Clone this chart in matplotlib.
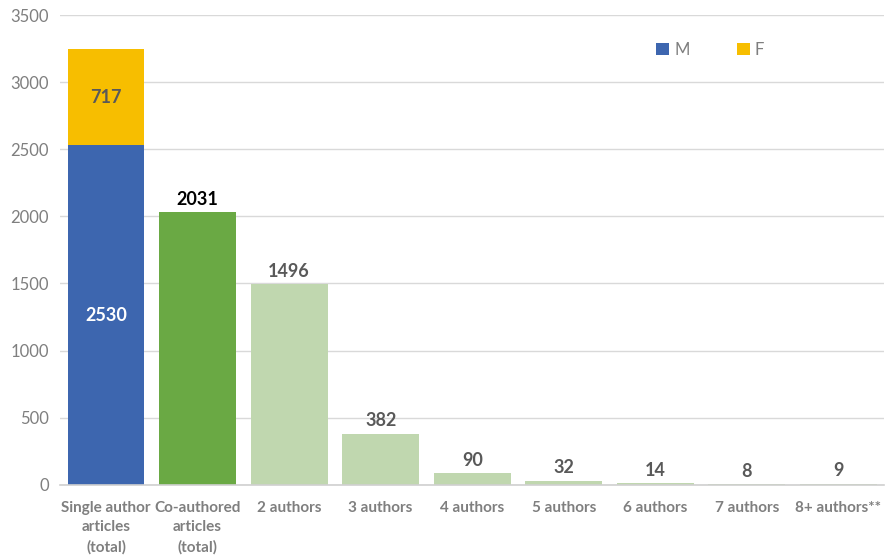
import matplotlib.pyplot as plt
import numpy as np

plt.rcParams['font.family'] = ['Lato', 'DejaVu Sans']

# data
categories = ["Single author\narticles\n(total)", "Co-authored\narticles\n(total)",
              "2 authors", "3 authors", "4 authors", "5 authors",
              "6 authors", "7 authors", "8+ authors**"]
male = [2530]
female = [717]
counts = [2031, 1496, 382, 90, 32, 14, 8, 9]

blue = "#3D66AF"
yellow = "#F7BE00"
green = "#6AA944"
light_green = "#C0D7AF"
grey = "#595959"

fig = plt.figure(figsize=(8.86, 5.56), dpi=100)
ax = fig.add_axes([0.068, 0.128, 0.93, 0.845])

x = np.arange(len(categories))
w = 0.84

# stacked single author bar
b_m = ax.bar(x[0], male[0], w, color=blue, label="M")
b_f = ax.bar(x[0], female[0], w, bottom=male[0], color=yellow, label="F")
ax.bar_label(b_m, label_type="center", color="white", fontsize=13, fontweight="bold")
ax.bar_label(b_f, label_type="center", color=grey, fontsize=13, fontweight="bold")

# co-authored bars
colors = [green] + [light_green] * (len(counts) - 1)
bars = ax.bar(x[1:], counts, w, color=colors)
for i, b in enumerate(bars):
    ax.annotate(str(counts[i]), (b.get_x() + b.get_width() / 2, b.get_height()),
                xytext=(0, 3), textcoords="offset points", ha="center", va="bottom",
                fontsize=13, fontweight="bold", color="black" if i == 0 else grey)

ax.set_xlim(-0.5, len(categories) - 0.5)
ax.set_ylim(0, 3500)
ax.set_yticks(np.arange(0, 3501, 500))
ax.set_xticks(x)
ax.set_xticklabels(categories, fontsize=11, fontweight="bold", color="#7F7F7F",
                   linespacing=1.45)
ax.tick_params(axis="y", labelsize=12, labelcolor="#7F7F7F", length=0, pad=8)
ax.tick_params(axis="x", length=0, pad=12)
ax.grid(axis="y", color="#D9D9D9", linewidth=1)
ax.set_axisbelow(True)
for s in ["top", "right", "left"]:
    ax.spines[s].set_visible(False)
ax.spines["bottom"].set_color("#D0D0D0")
ax.spines["bottom"].set_linewidth(1.2)

ax.legend(ncol=2, frameon=False, loc="upper left", bbox_to_anchor=(0.705, 0.975),
          handlelength=0.8, handleheight=0.8, columnspacing=2.8, handletextpad=0.3,
          prop={"size": 12}, labelcolor="#7F7F7F")

fig.savefig("out.png", dpi=100)
